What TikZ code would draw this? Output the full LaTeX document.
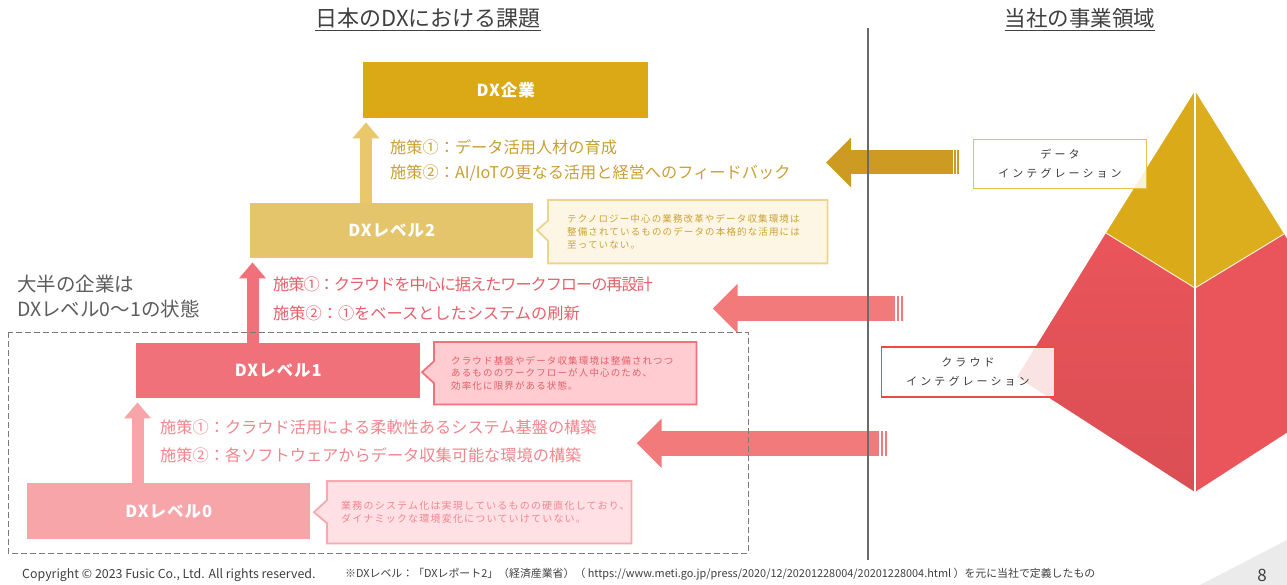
\documentclass[tikz,border=0pt]{standalone}
\usepackage{fontspec}
\setmainfont{Noto Sans CJK JP}
\newfontfamily\jpsp[LetterSpace=12]{Noto Sans CJK JP}
\newfontfamily\jplab[LetterSpace=28]{Noto Sans CJK JP}
\newfontfamily\jplvl[LetterSpace=6]{Noto Sans CJK JP}
\newfontfamily\jpnar[LetterSpace=-6.5]{Noto Sans CJK JP}
\usetikzlibrary{arrows.meta,calc}
\pgfdeclarelayer{background}
\pgfdeclarelayer{paper}
\pgfsetlayers{paper,background,main}
\definecolor{goldA}{HTML}{DBA916}
\definecolor{goldB}{HTML}{E4C56C}
\definecolor{goldUp}{HTML}{E8C86A}
\definecolor{goldArrow}{HTML}{CE9B22}
\definecolor{goldText}{HTML}{C9A033}
\definecolor{redA}{HTML}{F0717A}
\definecolor{redText}{HTML}{E6606A}
\definecolor{pinkA}{HTML}{F8A5AA}
\definecolor{pinkText}{HTML}{F2868E}
\definecolor{salmon}{HTML}{F37A7B}
\definecolor{grayT}{HTML}{404040}
\definecolor{grayL}{HTML}{6B6B6B}
\definecolor{pyrGold}{HTML}{DBAA18}
\definecolor{pyrGoldR}{HTML}{DCAD1C}
\definecolor{pyrRed}{HTML}{E9555A}
\definecolor{pyrRedD}{HTML}{DA4E54}
\definecolor{c2fill}{HTML}{FDF6E4}
\definecolor{c2draw}{HTML}{EDD48B}
\definecolor{c2text}{HTML}{CBA138}
\definecolor{c1fill}{HTML}{FFCCD1}
\definecolor{c1draw}{HTML}{F0737B}
\definecolor{c1text}{HTML}{E45F69}
\definecolor{c0fill}{HTML}{FFE0E4}
\definecolor{c0draw}{HTML}{F9A8AD}
\definecolor{c0text}{HTML}{F08790}
\definecolor{labGold}{HTML}{E9C245}
\definecolor{labRed}{HTML}{EB4A45}
\definecolor{labText}{HTML}{3A3A3A}
\definecolor{cornerG}{HTML}{EBEBEB}
\begin{document}
\begin{tikzpicture}[x=1pt,y=-1pt,
  lvl/.style={anchor=north west, inner sep=0pt, text=white,
    font=\jplvl\fontsize{16.5}{18}\selectfont\bfseries},
  uparr/.style={line width=12pt, -{Triangle[width=26pt,length=16pt]}},
  bigarr/.style={line width=25pt, -{Triangle[width=48pt,length=25pt]}},
  strat/.style={anchor=west, inner sep=0pt, font=\fontsize{16.2}{18}\selectfont},
  callbox/.style={anchor=north west, align=left, inner ysep=0pt,
    font=\jpsp\fontsize{9.5}{12.7}\selectfont},
  callpath/.style={line width=1.8pt},
  labbox/.style={draw, line width=1.6pt, fill=white, fill opacity=0.84, text opacity=1,
    align=center, text=labText, inner sep=0pt,
    font=\jplab\fontsize{11}{19}\selectfont},
  title/.style={inner sep=0pt, text=grayT}
]
\useasboundingbox (0,0) rectangle (1287,585);
\begin{pgfonlayer}{paper}
\fill[white] (0,0) rectangle (1287,585);
\end{pgfonlayer}

% ---------- titles ----------
\node[title, font=\fontsize{22}{24}\selectfont] (t1) at (428,18) {日本のDXにおける課題};
\draw[grayT, line width=1.2pt] ($(t1.base west)+(0,4)$) -- ($(t1.base east)+(0,4)$);
\node[title, font=\fontsize{21.5}{24}\selectfont] (t2) at (1080,18) {当社の事業領域};
\draw[grayT, line width=1.2pt] ($(t2.base west)+(0,4)$) -- ($(t2.base east)+(0,4)$);

% ---------- pyramid ----------
\begin{scope}
\clip (0,0) rectangle (1287,585);
\coordinate (pA) at (1195,91);
\coordinate (pL) at (1106,233);
\coordinate (pM) at (1195,288);
\coordinate (pR) at (1284,234);
\coordinate (pP) at (1017,377);
\coordinate (pB) at (1195,492);
\coordinate (pQ) at (1373,377);
\shade[top color=pyrRed, bottom color=pyrRedD] (pL) -- (pM) -- (pB) -- (pP) -- cycle;
\fill[pyrRed] (pM) -- (pR) -- (pQ) -- (pB) -- cycle;
\fill[pyrGold] (pA) -- (pL) -- (pM) -- cycle;
\fill[pyrGoldR] (pA) -- (pM) -- (pR) -- cycle;
\draw[white!80!pyrGold, line width=1pt] (pL) -- (pM) -- (pR);
\draw[white, line width=1.5pt] (pA) -- (pB);
\end{scope}

% ---------- level boxes ----------
\node[lvl, fill=goldA, minimum width=285pt, minimum height=56pt] (ent) at (363,62) {DX企業};
\node[lvl, fill=goldB, minimum width=283pt, minimum height=55pt] (l2) at (250,203) {DXレベル2};
\node[lvl, fill=redA, minimum width=284pt, minimum height=55pt] (l1) at (136,343) {DXレベル1};
\node[lvl, fill=pinkA, minimum width=283pt, minimum height=56pt] (l0) at (27,483) {DXレベル0};

% ---------- up arrows ----------
\coordinate (u3) at ($(ent.south west)+(3,4)$);
\draw[uparr, draw=goldUp] (u3 |- l2.north) -- (u3);
\coordinate (u2) at ($(l2.south west)+(2.5,4)$);
\draw[uparr, draw=redA] (u2 |- l1.north) -- (u2);
\coordinate (u1) at ($(l1.south west)+(1.5,4)$);
\draw[uparr, draw=pinkA] (u1 |- l0.north) -- (u1);

% ---------- strategies ----------
\node[strat, text=goldText] (s21) at (390,147) {施策①：データ活用人材の育成};
\node[strat, text=goldText] (s22) at (390,173) {施策②：AI/IoTの更なる活用と経営へのフィードバック};
\node[strat, text=redText, font=\jpnar\fontsize{16.2}{18}\selectfont] (s11) at (273,284) {施策①：クラウドを中心に据えたワークフローの再設計};
\node[strat, text=redText] (s12) at (273,313) {施策②：①をベースとしたシステムの刷新};
\node[strat, text=pinkText] (s01) at (160,427) {施策①：クラウド活用による柔軟性あるシステム基盤の構築};
\node[strat, text=pinkText] (s02) at (160,455) {施策②：各ソフトウェアからデータ収集可能な環境の構築};

% ---------- left note ----------
\node[anchor=west, align=left, inner sep=0pt, text=grayT!85,
  font=\fontsize{19.5}{25}\selectfont] (most) at (17,296.5)
  {大半の企業は\\DXレベル0〜1の状態};

% ---------- callouts ----------
\node[callbox, text=c2text, minimum height=63pt, text width=241pt, inner xsep=19pt] (c2) at (548,200)
  {テクノロジー中心の業務改革やデータ収集環境は\\整備されているもののデータの本格的な活用には\\至っていない。};
\node[callbox, text=c1text, minimum height=62pt, text width=228pt, inner xsep=17pt] (c1) at (434,342)
  {クラウド基盤やデータ収集環境は整備されつつ\\あるもののワークフローが人中心のため、\\効率化に限界がある状態。};
\node[callbox, text=c0text, minimum height=62pt, text width=276pt, inner xsep=14pt,
  font=\jpsp\fontsize{10}{12.2}\selectfont] (c0) at (327,481)
  {業務のシステム化は実現しているものの硬直化しており、\\ダイナミックな環境変化についていけていない。};
\begin{pgfonlayer}{background}
\draw[callpath, fill=c2fill, draw=c2draw] (c2.north west) -- (c2.north east) -- (c2.south east) -- (c2.south west)
  -- ($(c2.west)+(0,9)$) -- ($(c2.west)+(-11,-1.5)$) -- ($(c2.west)+(0,-11)$) -- cycle;
\draw[callpath, fill=c1fill, draw=c1draw] (c1.north west) -- (c1.north east) -- (c1.south east) -- (c1.south west)
  -- ($(c1.west)+(0,10)$) -- ($(c1.west)+(-12,-1)$) -- ($(c1.west)+(0,-12)$) -- cycle;
\draw[callpath, fill=c0fill, draw=c0draw] (c0.north west) -- (c0.north east) -- (c0.south east) -- (c0.south west)
  -- ($(c0.west)+(0,11)$) -- ($(c0.west)+(-13,0)$) -- ($(c0.west)+(0,-12)$) -- cycle;
\end{pgfonlayer}

% ---------- big left arrows ----------
\coordinate (ga-tail) at (952.5,162.5);
\coordinate (ga-tip) at (826,162.5);
\draw[bigarr, draw=goldArrow, line width=24pt] (ga-tail) -- (ga-tip);
\fill[goldArrow] (954.3,150.5) rectangle (956,174.5);
\fill[goldArrow] (957.3,150.5) rectangle (959,174.5);

\coordinate (ra-tail) at (895,308.5);
\coordinate (ra-tip) at (712.7,308.5);
\draw[bigarr, draw=salmon] (ra-tail) -- (ra-tip);
\fill[salmon] (896.7,296) rectangle (899.3,321);
\fill[salmon] (901,296) rectangle (903.3,321);

\coordinate (rb-tail) at (879.3,443.2);
\coordinate (rb-tip) at (636.7,443.2);
\draw[bigarr, draw=salmon] (rb-tail) -- (rb-tip);
\fill[salmon] (880.7,430.7) rectangle (883.3,455.7);
\fill[salmon] (885,430.7) rectangle (886.7,455.7);

% ---------- lines on top ----------
\draw[grayL!90, line width=0.9pt, dash pattern=on 6pt off 3pt] (8,332) rectangle (748,553);
\draw[grayL, line width=1.5pt] (868,28) -- (868,560);

% ---------- integration labels ----------
\node[labbox, draw=labGold, minimum width=173pt, minimum height=49pt] (dint) at (1060,164)
  {データ\\インテグレーション};
\node[labbox, draw=labRed, minimum width=173pt, minimum height=50pt] (cint) at (968,372)
  {クラウド\\インテグレーション};

% ---------- footer ----------
\fill[cornerG] (1200,585) -- (1287,540) -- (1287,585) -- cycle;
\node[anchor=west, inner sep=0pt, text=grayT, font=\fontsize{12.4}{14}\selectfont] (copy) at (22,575)
  {Copyright © 2023 Fusic Co., Ltd. All rights reserved.};
\node[anchor=west, inner sep=0pt, text=grayT, font=\fontsize{10.9}{12}\selectfont] (src) at (345,574)
  {※DXレベル：「DXレポート2」（経済産業省）（ https://www.meti.go.jp/press/2020/12/20201228004/20201228004.html ）を元に当社で定義したもの};
\node[inner sep=0pt, text=grayT, font=\fontsize{17}{19}\selectfont] (pg) at (1262,575) {8};
\end{tikzpicture}
\end{document}
